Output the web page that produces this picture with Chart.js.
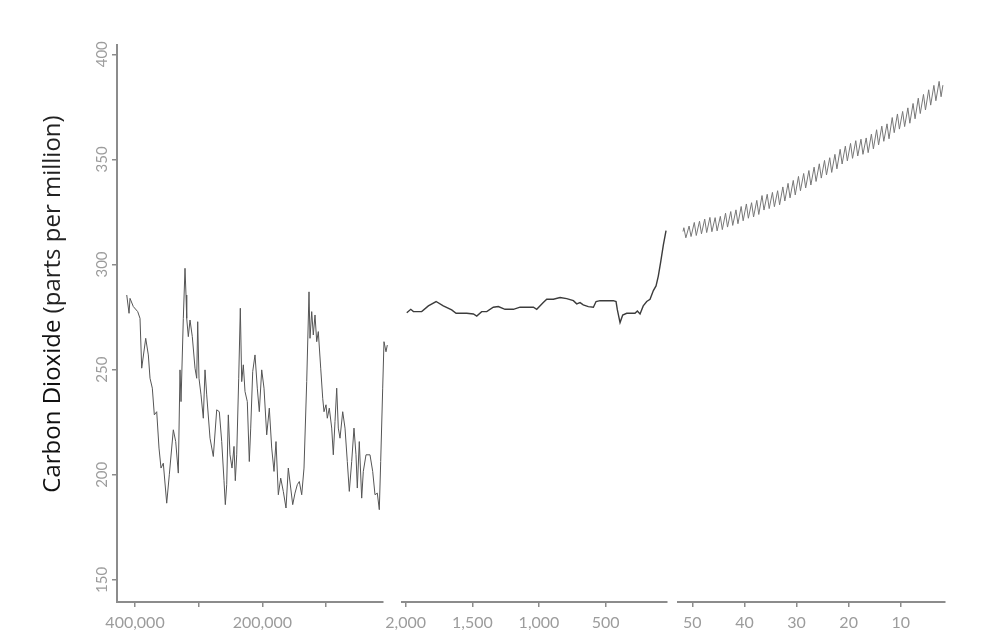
<!DOCTYPE html>
<html>
<head>
<meta charset="utf-8">
<title>Carbon Dioxide</title>
<script src="https://cdn.jsdelivr.net/npm/chart.js@4.4.1/dist/chart.umd.min.js"></script>
<style>
  html, body { margin: 0; padding: 0; background: #fff; }
  #wrap { position: relative; width: 987px; height: 633px; overflow: hidden; }
  #wrap canvas { position: absolute; top: 0; }
</style>
</head>
<body>
<div id="wrap">
  <canvas id="vostok" width="390" height="633" style="left:0px"></canvas>
  <canvas id="lawdome" width="302" height="633" style="left:370px"></canvas>
  <canvas id="maunaloa" width="315" height="633" style="left:672px"></canvas>
</div>
<script>
// y axis (ppm)
const yTicks = [150, 200, 250, 300, 350, 400];

// Vostok ice core: years before present / ppm
const vostokYearsAgo = [413000, 409400, 407850, 402670, 395760, 392150, 389480, 383200, 379110, 376440,
  372830, 369690, 365920, 362310, 359170, 355560, 350220, 346140, 339850, 336080,
  332000, 329330, 327750, 324140, 321470, 319900, 318800, 316280, 313620, 310010,
  305770, 303100, 301520, 299480, 296340, 292730, 290060, 287390, 282200, 277020,
  271680, 267600, 263830, 260220, 258170, 255970, 253460, 250790, 247650, 244510,
  242470, 240270, 237130, 234610, 232420, 229900, 227240, 223630, 220480, 218290,
  215150, 211530, 207920, 204780, 201010, 197400, 193160, 189070, 185300, 181690,
  178550, 174930, 171160, 167080, 162840, 159230, 155460, 152310, 148700, 145090,
  141950, 138180, 134570, 130330, 126710, 125140, 122470, 119960, 117290, 114620,
  112110, 108340, 105200, 103150, 100010, 97970, 94830, 91060, 88550, 85880,
  83210, 80700, 78030, 73790, 70180, 66570, 63430, 59660, 56050, 52910,
  50870, 47730, 43960, 41440, 37200, 30920, 26680, 23070, 19450, 16310,
  14110, 10970, 8930, 5790, 3750];
const vostokPpm = [285.5, 276.8, 283.9, 280.0, 277.6, 274.4, 250.7, 264.9, 257.0, 245.9,
  241.2, 228.5, 230.0, 212.7, 203.2, 205.5, 186.5, 200.0, 221.4, 215.8,
  200.8, 249.9, 234.8, 274.4, 298.2, 285.5, 274.4, 265.7, 273.6, 265.7,
  250.7, 245.9, 272.8, 245.9, 238.0, 226.9, 249.9, 238.0, 217.4, 208.7,
  230.9, 230.0, 215.8, 197.2, 185.8, 195.3, 228.5, 209.5, 203.2, 213.5,
  197.2, 209.5, 245.9, 279.2, 244.3, 252.3, 239.6, 234.8, 206.3, 222.2,
  249.1, 257.0, 241.2, 230.0, 249.9, 241.2, 219.0, 231.7, 212.7, 201.6,
  215.8, 190.5, 198.4, 192.1, 184.2, 203.2, 193.7, 185.8, 191.3, 195.3,
  196.8, 190.5, 203.2, 244.3, 287.0, 264.9, 277.6, 266.5, 276.0, 263.3,
  268.1, 250.7, 236.4, 230.0, 233.3, 226.9, 231.7, 222.2, 209.5, 225.3,
  241.2, 222.2, 217.4, 230.0, 222.2, 206.3, 192.1, 206.3, 222.2, 209.5,
  193.7, 215.8, 188.9, 201.6, 209.5, 209.5, 201.6, 190.5, 191.3, 183.4,
  206.3, 241.2, 263.3, 258.5, 261.7];
const vostokTicks = [400000, 300000, 200000, 100000];
const vostokTickLabels = ['400,000', '', '200,000', ''];

// Law Dome ice core: years ago / ppm
const lawDomeYearsAgo = [1992, 1962, 1942, 1880, 1830, 1772, 1718, 1655, 1622, 1542,
  1492, 1467, 1430, 1392, 1343, 1305, 1255, 1192, 1142, 1042,
  1017, 968, 942, 892, 842, 792, 742, 717, 692, 668,
  630, 592, 572, 542, 442, 422, 412, 392, 372, 342,
  280, 262, 242, 218, 192, 167, 142, 122, 105, 87, 67, 47];
const lawDomePpm = [277.1, 278.7, 277.6, 277.6, 280.3, 282.4, 280.3, 278.4, 276.8, 276.8,
  276.5, 275.5, 277.6, 277.6, 279.7, 280.0, 278.7, 278.7, 279.7, 279.7,
  278.7, 281.9, 283.5, 283.5, 284.3, 283.8, 282.8, 281.3, 281.9, 280.8,
  280.0, 279.7, 282.4, 282.8, 282.8, 282.4, 278.4, 272.4, 276.0, 276.8,
  276.8, 277.9, 276.5, 280.3, 282.4, 283.5, 287.6, 289.8, 294.5, 301.3, 309.3, 316.1];
const lawDomeTicks = [2000, 1500, 1000, 500];
const lawDomeTickLabels = ['2,000', '1,500', '1,000', '500'];

// Mauna Loa: yearly May high and autumn low (ppm)
const ML_REF_YEAR = 2010;
const mlYears = [1958, 1959, 1960, 1961, 1962, 1963, 1964, 1965, 1966, 1967,
  1968, 1969, 1970, 1971, 1972, 1973, 1974, 1975, 1976, 1977,
  1978, 1979, 1980, 1981, 1982, 1983, 1984, 1985, 1986, 1987,
  1988, 1989, 1990, 1991, 1992, 1993, 1994, 1995, 1996, 1997,
  1998, 1999, 2000, 2001, 2002, 2003, 2004, 2005, 2006, 2007];
const mlMayHigh = [317.5, 318.3, 320.0, 320.6, 321.6, 322.4, 322.3, 322.9, 324.4, 325.2,
  326.0, 327.6, 328.8, 329.4, 330.5, 332.8, 333.4, 334.3, 335.1, 336.9,
  338.6, 340.0, 341.9, 343.3, 344.7, 346.3, 347.9, 349.5, 350.8, 352.4,
  354.8, 356.3, 357.6, 358.9, 359.6, 360.2, 362.0, 364.1, 365.8, 366.9,
  369.9, 371.6, 372.8, 374.5, 376.6, 379.1, 380.9, 383.1, 385.2, 387.1];
const mlAutumnLow = [312.7, 313.3, 313.8, 314.6, 315.2, 315.6, 316.0, 316.6, 317.8, 318.6,
  319.4, 320.8, 322.0, 322.6, 323.8, 325.9, 326.6, 327.5, 328.4, 330.2,
  331.7, 333.1, 335.1, 336.4, 337.8, 339.5, 341.1, 342.6, 343.8, 345.5,
  347.8, 349.3, 350.5, 351.6, 352.4, 353.2, 355.0, 356.9, 358.6, 359.8,
  362.7, 364.4, 365.6, 367.2, 369.3, 371.8, 373.5, 375.8, 377.9, 379.8];
const mlFirst = { year: 1958.2, ppm: 315.7 };
const mlLast = { year: 2008.1, ppm: 385.3 };
const mlTicks = [50, 40, 30, 20, 10];
const mlTickLabels = ['50', '40', '30', '20', '10'];

const AXIS_COLOR = '#8c8c8c';
const TICK_COLOR = '#9c9c9c';
const Y_MIN = 139.5, Y_MAX = 404.4;

function zipPoints(xs, ys) {
    return xs.map((x, i) => ({ x: x, y: ys[i] }));
}

const maunaLoaPoints = [{ x: ML_REF_YEAR - mlFirst.year, y: mlFirst.ppm }];
mlYears.forEach((yr, i) => {
    maunaLoaPoints.push({ x: ML_REF_YEAR - (yr + 0.37), y: mlMayHigh[i] });
    maunaLoaPoints.push({ x: ML_REF_YEAR - (yr + 0.75), y: mlAutumnLow[i] });
});
maunaLoaPoints.push({ x: ML_REF_YEAR - mlLast.year, y: mlLast.ppm });

function xScale(min, max, ticks, labels) {
    return {
        type: 'linear',
        reverse: true,
        min: min,
        max: max,
        afterBuildTicks: s => { s.ticks = ticks.map(v => ({ value: v })); },
        afterFit: s => { s.height = 31; s.paddingLeft = 0; s.paddingRight = 0; },
        grid: { drawOnChartArea: false, drawTicks: true, tickLength: 5, color: AXIS_COLOR, lineWidth: 1.5 },
        border: { display: true, color: AXIS_COLOR, width: 2 },
        ticks: {
            autoSkip: false, maxRotation: 0, padding: 6, color: TICK_COLOR,
            font: { family: 'Lato', size: 16 },
            callback: (v, i) => labels[i]
        }
    };
}

const yScaleShown = {
    min: Y_MIN,
    max: Y_MAX,
    afterBuildTicks: s => { s.ticks = yTicks.map(v => ({ value: v })); },
    afterFit: s => { s.width = 40; s.paddingTop = 0; s.paddingBottom = 0; },
    grid: { drawOnChartArea: false, drawTicks: true, tickLength: 5, color: AXIS_COLOR, lineWidth: 1.5 },
    border: { display: true, color: AXIS_COLOR, width: 2 },
    ticks: {
        autoSkip: false, minRotation: 90, maxRotation: 90, crossAlign: 'center', padding: -3,
        color: TICK_COLOR, font: { family: 'Lato', size: 15 }
    }
};
const yScaleHidden = { display: false, min: Y_MIN, max: Y_MAX };

// rotated axis title, two weights like the original
const yTitlePlugin = {
    id: 'yTitle',
    afterDraw(chart, args, opts) {
        if (!opts.parts) return;
        const ctx = chart.ctx;
        ctx.save();
        ctx.translate(opts.x, opts.y);
        ctx.rotate(-Math.PI / 2);
        ctx.textBaseline = 'alphabetic';
        ctx.textAlign = 'left';
        let total = 0;
        opts.parts.forEach(p => { ctx.font = p.font; total += ctx.measureText(p.text).width; });
        let pos = -total / 2;
        opts.parts.forEach(p => {
            ctx.font = p.font;
            ctx.fillStyle = p.color;
            ctx.fillText(p.text, pos, 0);
            pos += ctx.measureText(p.text).width;
        });
        ctx.restore();
    }
};

function panel(id, points, xs, yScale, padding, color, width, title) {
    return new Chart(document.getElementById(id), {
        type: 'line',
        data: {
            datasets: [{
                data: points,
                borderColor: color,
                borderWidth: width,
                pointRadius: 0,
                tension: 0,
                clip: false
            }]
        },
        options: {
            responsive: false,
            animation: false,
            events: [],
            layout: { padding: padding },
            scales: { x: xs, y: yScale },
            plugins: {
                legend: { display: false },
                tooltip: { enabled: false },
                yTitle: title || {}
            }
        },
        plugins: [yTitlePlugin]
    });
}

panel('vostok', zipPoints(vostokYearsAgo, vostokPpm),
    xScale(10500, 428300, vostokTicks, vostokTickLabels), yScaleShown,
    { left: 77, right: 7, top: 45, bottom: 0 }, '#555555', 1,
    {
        x: 60, y: 304,
        parts: [
            { text: 'Carbon Dioxide ', font: '500 24px "Open Sans"', color: '#111111' },
            { text: '(parts per million)', font: '24px "Open Sans"', color: '#222222' }
        ]
    });

panel('lawdome', zipPoints(lawDomeYearsAgo, lawDomePpm),
    xScale(42, 2030, lawDomeTicks, lawDomeTickLabels), yScaleHidden,
    { left: 31.7, right: 5.3, top: 45, bottom: 0 }, '#3c3c3c', 1.4);

panel('maunaloa', maunaLoaPoints,
    xScale(1.5, 52.7, mlTicks, mlTickLabels), yScaleHidden,
    { left: 6.3, right: 42, top: 45, bottom: 0 }, '#777777', 1);
</script>
</body>
</html>
